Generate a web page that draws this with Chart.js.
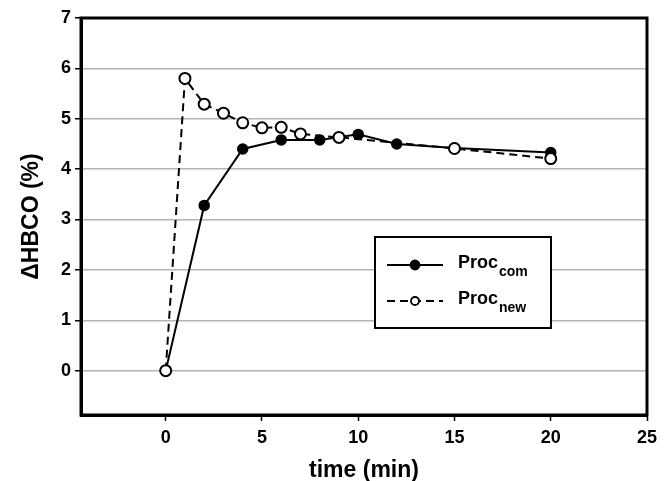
<!DOCTYPE html>
<html><head><meta charset="utf-8">
<script src="https://cdn.jsdelivr.net/npm/chart.js@4/dist/chart.umd.min.js"></script>
<style>html,body{margin:0;padding:0;background:#fff}#wrap{width:669px;height:481px;position:relative}</style>
</head><body><div id="wrap"><canvas id="c" width="669" height="481"></canvas></div>
<script>
// ---- data ----
const timeCom = [0, 2, 4, 6, 8, 10, 12, 15, 20];
const procCom = [0, 3.28, 4.4, 4.58, 4.58, 4.69, 4.5, 4.42, 4.33];
const timeNew = [0, 1, 2, 3, 4, 5, 6, 7, 9, 15, 20];
const procNew = [0, 5.8, 5.29, 5.11, 4.92, 4.82, 4.83, 4.7, 4.63, 4.41, 4.21];
const xTicks = [0, 5, 10, 15, 20, 25];
const yTicks = [0, 1, 2, 3, 4, 5, 6, 7];
const seriesBase = ['Proc', 'Proc'];
const seriesSub = ['com', 'new'];
const xTitle = 'time (min)';
const yTitle = '\u0394HBCO (%)';

const FONT = "'Liberation Sans', Arial, sans-serif";

const framePlugin = {
  id: 'frame',
  beforeDatasetsDraw(chart) {
    const {ctx, chartArea: a} = chart;
    ctx.save();
    ctx.strokeStyle = '#000';
    ctx.lineWidth = 3;
    ctx.strokeRect(a.left, a.top, a.right - a.left, a.bottom - a.top);
    ctx.restore();
  }
};

const legendPlugin = {
  id: 'boxLegend',
  afterDatasetsDraw(chart) {
    const {ctx, chartArea: a} = chart;
    const bx = a.left + 294, by = a.top + 219, bw = 176, bh = 91;
    ctx.save();
    ctx.fillStyle = '#fff';
    ctx.fillRect(bx, by, bw, bh);
    ctx.strokeStyle = '#000';
    ctx.lineWidth = 2;
    ctx.strokeRect(bx, by, bw, bh);
    const rows = [by + 28, by + 64];
    rows.forEach((ry, i) => {
      ctx.strokeStyle = '#000';
      ctx.lineWidth = 2;
      ctx.setLineDash(i === 1 ? [8, 5] : []);
      ctx.beginPath();
      ctx.moveTo(bx + 12, ry);
      ctx.lineTo(bx + 68, ry);
      ctx.stroke();
      ctx.setLineDash([]);
      ctx.beginPath();
      ctx.arc(bx + 40, ry, i === 1 ? 4 : 4.5, 0, Math.PI * 2);
      ctx.fillStyle = i === 1 ? '#fff' : '#000';
      ctx.fill();
      ctx.lineWidth = 1.8;
      ctx.stroke();
      ctx.fillStyle = '#000';
      ctx.textBaseline = 'alphabetic';
      ctx.textAlign = 'left';
      ctx.font = 'bold 18px ' + FONT;
      ctx.fillText(seriesBase[i], bx + 83, ry + 3);
      const w = ctx.measureText(seriesBase[i]).width;
      ctx.font = 'bold 14px ' + FONT;
      ctx.fillText(seriesSub[i], bx + 83 + w + 1, ry + 11);
    });
    ctx.restore();
  }
};

const pts = (xs, ys) => xs.map((x, i) => ({x: x, y: ys[i]}));

new Chart(document.getElementById('c'), {
  type: 'line',
  data: {
    datasets: [
      {
        label: seriesBase[0] + seriesSub[0],
        data: pts(timeCom, procCom),
        order: 1,
        borderColor: '#000',
        borderWidth: 2,
        pointRadius: 5,
        pointBackgroundColor: '#000',
        pointBorderColor: '#000',
        pointBorderWidth: 1.5,
        tension: 0,
        fill: false
      },
      {
        label: seriesBase[1] + seriesSub[1],
        data: pts(timeNew, procNew),
        order: 0,
        borderColor: '#000',
        borderWidth: 2,
        borderDash: [8, 5],
        pointRadius: 5.5,
        pointBackgroundColor: '#fff',
        pointBorderColor: '#000',
        pointBorderWidth: 2,
        tension: 0,
        fill: false
      }
    ]
  },
  options: {
    responsive: false,
    animation: false,
    devicePixelRatio: 1,
    layout: {padding: {top: 18, right: 22, left: 0, bottom: 0}},
    plugins: {legend: {display: false}, tooltip: {enabled: false}},
    scales: {
      x: {
        type: 'linear',
        min: -4.4,
        max: 25,
        afterBuildTicks: s => { s.ticks = xTicks.map(v => ({value: v})); },
        afterFit: s => { s.height = 66; },
        ticks: {color: '#000', font: {family: FONT, size: 18, weight: 'bold'}, padding: 6, maxRotation: 0},
        grid: {drawOnChartArea: false, drawTicks: true, tickLength: 6, tickColor: '#000', tickWidth: 1.5},
        border: {display: true, color: '#000', width: 3},
        title: {display: true, text: xTitle, color: '#000', font: {family: FONT, size: 23, weight: 'bold'}, padding: {top: 0, bottom: -3}}
      },
      y: {
        type: 'linear',
        min: -0.88,
        max: 7,
        afterBuildTicks: s => { s.ticks = yTicks.map(v => ({value: v})); },
        afterFit: s => { s.width = 81; },
        ticks: {color: '#000', font: {family: FONT, size: 18, weight: 'bold'}, padding: 4},
        grid: {color: '#b4b4b4', lineWidth: 1.5, drawTicks: true, tickLength: 6, tickColor: '#000', tickWidth: 1.5},
        border: {display: true, color: '#000', width: 3},
        title: {display: true, text: yTitle, color: '#000', font: {family: FONT, size: 23, weight: 'bold'}, padding: {top: 18, bottom: 0}}
      }
    }
  },
  plugins: [framePlugin, legendPlugin]
});
</script>
</body></html>
